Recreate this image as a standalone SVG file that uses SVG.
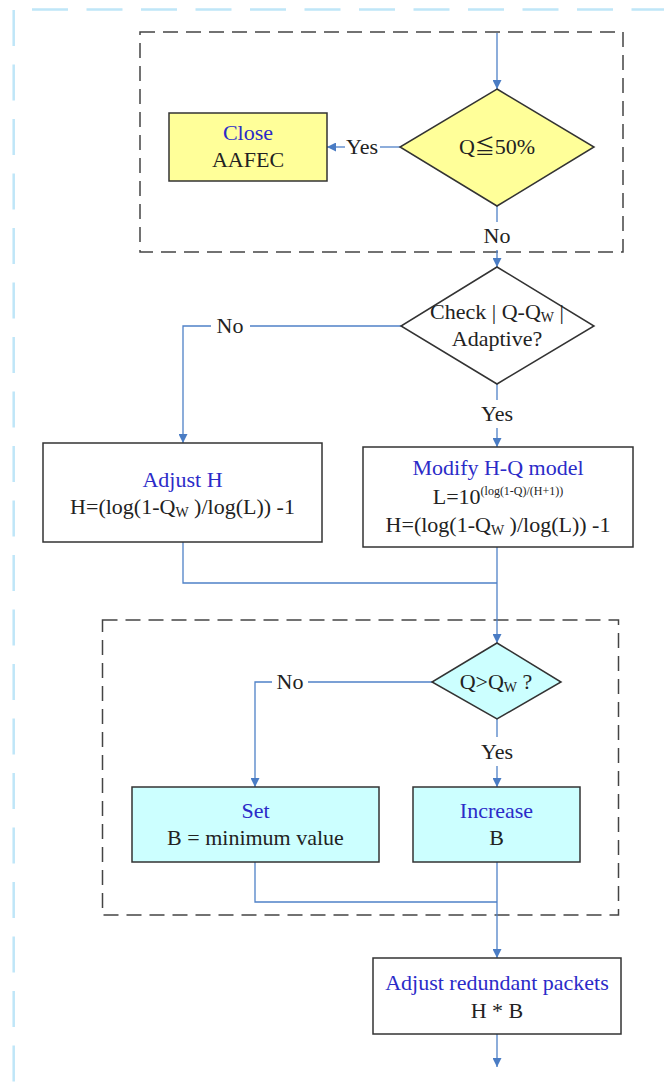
<svg xmlns="http://www.w3.org/2000/svg" width="664" height="1090" viewBox="0 0 664 1090">
  <defs>
    <marker id="arrow" viewBox="0 0 10 10" refX="10" refY="5" markerWidth="9" markerHeight="9" markerUnits="userSpaceOnUse" orient="auto">
      <path d="M0,0 L10,5 L0,10 z" fill="#4a7cc4"/>
    </marker>
    <style>
      .frame { fill: none; stroke: #bfe6f8; stroke-width: 2.5; stroke-dasharray: 36 18.5; }
      .group { fill: none; stroke: #444; stroke-width: 1.5; stroke-dasharray: 15 8; }
      .node { stroke: #333; stroke-width: 1.5; }
      .plain { fill: #ffffff; }
      .yellow { fill: #ffff99; }
      .cyan { fill: #ccffff; }
      .conn { fill: none; stroke: #4f81c7; stroke-width: 1.3; }
      text { font-family: "Liberation Serif", "DejaVu Serif", serif; font-size: 22px; text-anchor: middle; fill: #222; }
      .title { fill: #2b2bc8; }
      .label { fill: #222; }
      .sub { font-size: 14px; }
      .sup { font-size: 12px; }
      .sym { font-family: "Noto Sans CJK SC", "DejaVu Sans", sans-serif; font-size: 20px; }
    </style>
  </defs>

  <!-- outer frame (partial, light blue) -->
  <line class="frame" x1="32" y1="9.5" x2="664" y2="9.5"/>
  <line class="frame" x1="13.7" y1="10" x2="13.7" y2="1090"/>

  <!-- grouping boxes -->
  <rect class="group" x="140" y="32" width="483" height="220"/>
  <rect class="group" x="102.5" y="620" width="516" height="295"/>

  <!-- connectors -->
  <g id="connectors">
    <line class="conn" x1="497" y1="33" x2="497" y2="89" marker-end="url(#arrow)"/>
    <line class="conn" x1="400" y1="147" x2="380" y2="147"/>
    <line class="conn" x1="345" y1="147" x2="327" y2="147" marker-end="url(#arrow)"/>
    <line class="conn" x1="497" y1="206" x2="497" y2="222"/>
    <line class="conn" x1="497" y1="250" x2="497" y2="267" marker-end="url(#arrow)"/>
    <polyline class="conn" points="401,326 250,326"/>
    <polyline class="conn" points="211,326 183,326 183,443" marker-end="url(#arrow)"/>
    <line class="conn" x1="497" y1="384" x2="497" y2="400"/>
    <line class="conn" x1="497" y1="428" x2="497" y2="447" marker-end="url(#arrow)"/>
    <polyline class="conn" points="183,542 183,583 497,583"/>
    <line class="conn" x1="497" y1="547" x2="497" y2="643" marker-end="url(#arrow)"/>
    <polyline class="conn" points="432,682 308,682"/>
    <polyline class="conn" points="272,682 255,682 255,787" marker-end="url(#arrow)"/>
    <line class="conn" x1="497" y1="719" x2="497" y2="737"/>
    <line class="conn" x1="497" y1="766" x2="497" y2="787" marker-end="url(#arrow)"/>
    <polyline class="conn" points="255,862 255,902 497,902"/>
    <line class="conn" x1="497" y1="862" x2="497" y2="958" marker-end="url(#arrow)"/>
    <line class="conn" x1="497" y1="1034" x2="497" y2="1067" marker-end="url(#arrow)"/>

    <text class="label" x="362" y="154">Yes</text>
    <text class="label" x="497" y="243">No</text>
    <text class="label" x="230" y="333">No</text>
    <text class="label" x="497" y="421">Yes</text>
    <text class="label" x="290" y="689">No</text>
    <text class="label" x="497" y="759">Yes</text>
  </g>

  <g id="close-aafec">
    <rect class="node yellow" x="169" y="113" width="158" height="68"/>
    <text class="title" x="248" y="140">Close</text>
    <text x="248" y="167">AAFEC</text>
  </g>

  <g id="check-q50">
    <polygon class="node yellow" points="497,89 594,147 497,206 400,147"/>
    <text x="497" y="154">Q<tspan class="sym">≦</tspan>50%</text>
  </g>

  <g id="check-adaptive">
    <polygon class="node plain" points="497,267 594,326 497,384 401,326"/>
    <text x="497" y="319">Check | Q-Q<tspan class="sub" dy="3">W</tspan><tspan dy="-3"> |</tspan></text>
    <text x="497" y="346">Adaptive?</text>
  </g>

  <g id="adjust-h">
    <rect class="node plain" x="43" y="443" width="279" height="99"/>
    <text class="title" x="182.5" y="487">Adjust H</text>
    <text x="182.5" y="514">H=(log(1-Q<tspan class="sub" dy="3">W</tspan><tspan dy="-3"> )/log(L)) -1</tspan></text>
  </g>

  <g id="modify-hq">
    <rect class="node plain" x="363" y="447" width="270" height="100"/>
    <text class="title" x="498" y="475">Modify H-Q model</text>
    <text x="498" y="504">L=10<tspan class="sup" dy="-9">(log(1-Q)/(H+1))</tspan></text>
    <text x="498" y="532">H=(log(1-Q<tspan class="sub" dy="3">W</tspan><tspan dy="-3"> )/log(L)) -1</tspan></text>
  </g>

  <g id="check-qw">
    <polygon class="node cyan" points="497,643 561,682 497,719 432,682"/>
    <text x="496" y="689">Q&gt;Q<tspan class="sub" dy="3">W</tspan><tspan dy="-3"> ?</tspan></text>
  </g>

  <g id="set-b">
    <rect class="node cyan" x="132" y="787" width="247" height="75"/>
    <text class="title" x="255.5" y="818">Set</text>
    <text x="255.5" y="845">B = minimum value</text>
  </g>

  <g id="increase-b">
    <rect class="node cyan" x="413" y="787" width="167" height="75"/>
    <text class="title" x="496.5" y="818">Increase</text>
    <text x="496.5" y="845">B</text>
  </g>

  <g id="adjust-packets">
    <rect class="node plain" x="373" y="958" width="248" height="76"/>
    <text class="title" x="497" y="990">Adjust redundant packets</text>
    <text x="497" y="1018">H * B</text>
  </g>
</svg>
